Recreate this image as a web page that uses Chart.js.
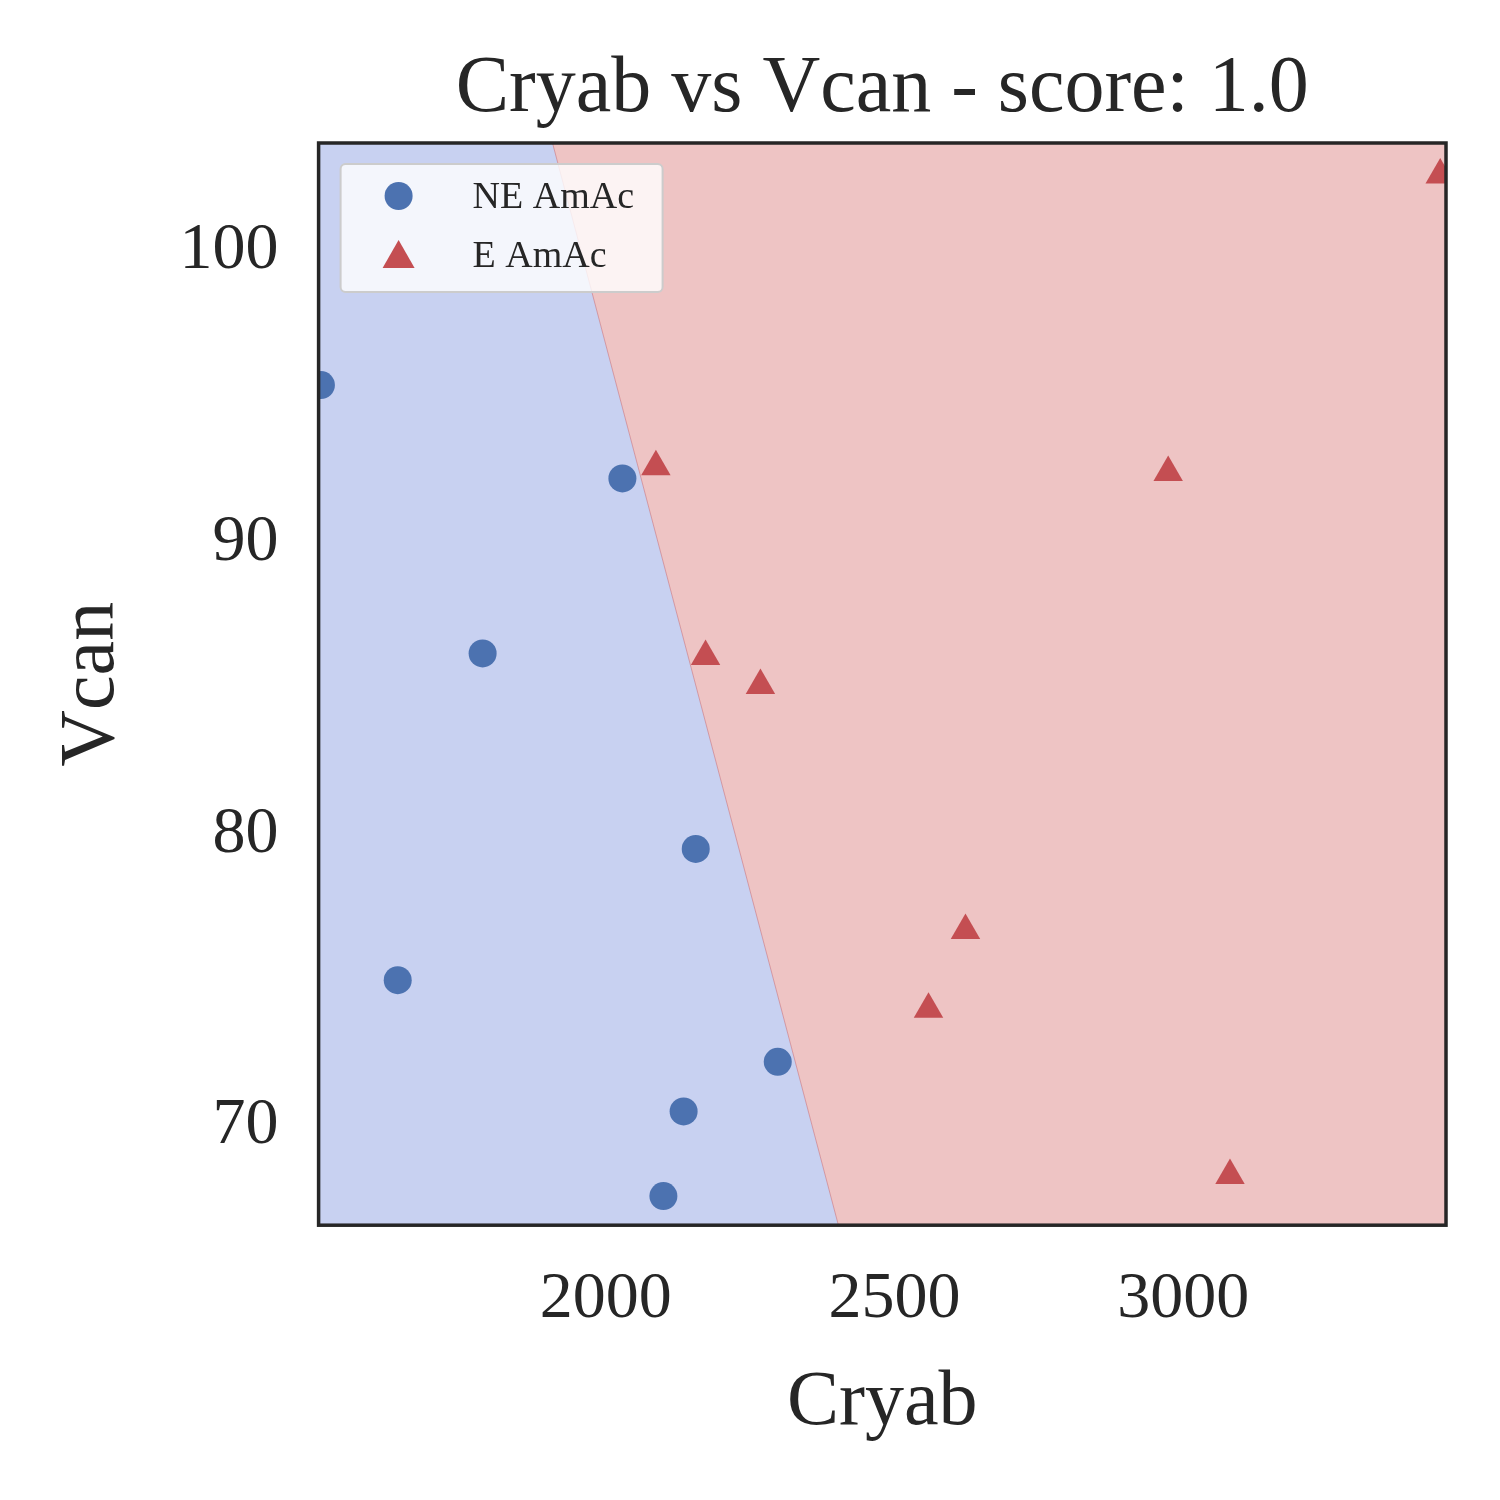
<!DOCTYPE html>
<html>
<head>
<meta charset="utf-8">
<script src="https://cdn.jsdelivr.net/npm/chart.js@4"></script>
<style>
  body { margin: 0; background: #fff; }
  #wrap { width: 1500px; height: 1500px; }
</style>
</head>
<body>
<div id="wrap"><canvas id="c" width="1500" height="1500"></canvas></div>
<script>
const xRange = [1503, 3455];
const yRange = [66.6, 103.7];
const boundaryX = [1908, 2403];
const xTicks = [2000, 2500, 3000];
const yTicks = [70, 80, 90, 100];
const titleText = 'Cryab vs Vcan - score: 1.0';

const neX = [1507, 2029, 1787, 2156, 1640, 2298, 2135, 2100];
const neY = [95.4, 92.2, 86.2, 79.5, 75.0, 72.2, 70.5, 67.6];
const eX = [3445, 2087, 2974, 2173, 2268, 2623, 2559, 3081];
const eY = [102.6, 92.6, 92.4, 86.1, 85.1, 76.7, 74.0, 68.3];

const serif = '"Liberation Serif", "DejaVu Serif", serif';
const ink = '#262626';
const blue = '#4c72b0';
const red = '#c44e52';

const toPts = (xs, ys) => xs.map((x, i) => ({ x, y: ys[i] }));

const legendItems = [
  { label: 'NE AmAc', style: 'circle', color: blue },
  { label: 'E AmAc', style: 'triangle', color: red },
];

// title centred over the plot box, legend inside the top-left corner
const overlayPlugin = {
  id: 'overlay',
  afterDraw(chart) {
    const { ctx, chartArea } = chart;
    ctx.save();
    ctx.fillStyle = ink;
    ctx.font = `80px ${serif}`;
    ctx.textAlign = 'center';
    ctx.textBaseline = 'middle';
    ctx.fillText(titleText, (chartArea.left + chartArea.right) / 2, 90);

    ctx.strokeStyle = ink;
    ctx.lineWidth = 3.5;
    ctx.strokeRect(chartArea.left, chartArea.top, chartArea.right - chartArea.left, chartArea.bottom - chartArea.top);

    const x0 = chartArea.left + 22;
    const y0 = chartArea.top + 21;
    ctx.fillStyle = 'rgba(255,255,255,0.8)';
    ctx.strokeStyle = '#cccccc';
    ctx.lineWidth = 2;
    ctx.beginPath();
    ctx.roundRect(x0, y0, 322, 128, 5);
    ctx.fill();
    ctx.stroke();
    ctx.font = `38px ${serif}`;
    ctx.textAlign = 'left';
    legendItems.forEach((item, i) => {
      const cy = y0 + 32 + i * 59;
      ctx.fillStyle = item.color;
      ctx.beginPath();
      if (item.style === 'circle') {
        ctx.arc(x0 + 58, cy, 14, 0, Math.PI * 2);
      } else {
        ctx.moveTo(x0 + 58, cy - 15);
        ctx.lineTo(x0 + 74, cy + 13);
        ctx.lineTo(x0 + 42, cy + 13);
        ctx.closePath();
      }
      ctx.fill();
      ctx.fillStyle = ink;
      ctx.fillText(item.label, x0 + 132, cy + 2);
    });
    ctx.restore();
  },
};

const frameScale = (min, max, ticks, label, pos) => ({
  type: 'linear',
  position: pos,
  min,
  max,
  grid: { display: false, drawTicks: false },
  border: { display: false },
  ticks: {
    color: ink,
    font: { family: serif, size: 66 },
    padding: pos === 'bottom' ? 35 : 40,
    callback: (v) => String(v),
  },
  afterBuildTicks(scale) { scale.ticks = ticks.map((v) => ({ value: v })); },
  title: {
    display: true,
    text: label,
    color: ink,
    font: { family: serif, size: 78 },
    padding: pos === 'bottom' ? { top: -18, bottom: 0 } : 0,
  },
});

new Chart(document.getElementById('c'), {
  type: 'scatter',
  data: {
    datasets: [
      {
        type: 'line',
        data: toPts([xRange[0], boundaryX[0], boundaryX[1]], [yRange[1], yRange[1], yRange[0]]),
        backgroundColor: '#c8d1f1',
        borderColor: 'rgba(196,78,82,0.4)',
        borderWidth: 1,
        pointRadius: 0,
        fill: 'start',
        order: 2,
      },
      {
        type: 'line',
        data: toPts([xRange[0], xRange[1]], [yRange[1], yRange[1]]),
        backgroundColor: '#eec4c4',
        borderWidth: 0,
        pointRadius: 0,
        fill: 'start',
        order: 3,
      },
      {
        label: 'NE AmAc',
        data: toPts(neX, neY),
        backgroundColor: blue,
        borderWidth: 0,
        pointStyle: 'circle',
        pointRadius: 14,
        order: 1,
      },
      {
        label: 'E AmAc',
        data: toPts(eX, eY),
        backgroundColor: red,
        borderWidth: 0,
        pointStyle: 'triangle',
        pointRadius: 17,
        order: 0,
      },
    ],
  },
  options: {
    responsive: false,
    animation: false,
    layout: { padding: { left: 46, right: 54, top: 143, bottom: 50 } },
    scales: {
      x: frameScale(xRange[0], xRange[1], xTicks, 'Cryab', 'bottom'),
      y: frameScale(yRange[0], yRange[1], yTicks, 'Vcan', 'left'),
    },
    plugins: {
      legend: { display: false },
      tooltip: { enabled: false },
      title: { display: false },
    },
  },
  plugins: [overlayPlugin],
});
</script>
</body>
</html>
